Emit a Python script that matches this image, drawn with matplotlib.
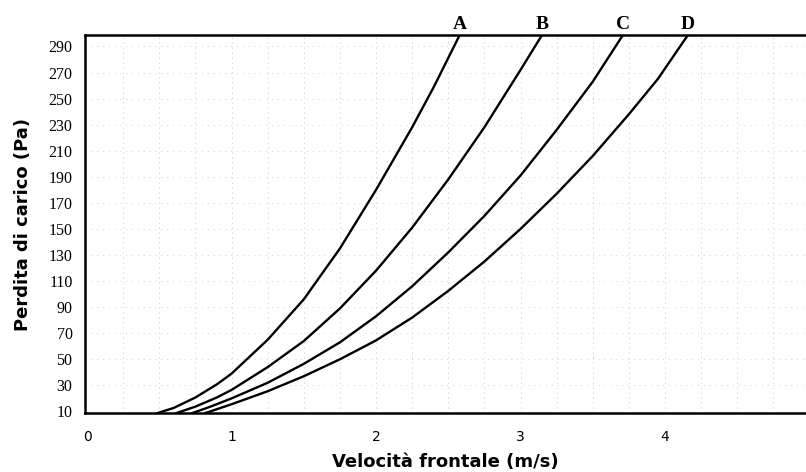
import matplotlib.pyplot as plt
import numpy as np

# velocity (m/s) and pressure drop (Pa)
curve_names = ["A", "B", "C", "D"]

v_a = [0.49, 0.60, 0.75, 0.90, 1.00, 1.25, 1.50, 1.75, 2.00, 2.25, 2.40, 2.58]
p_a = [8.8, 12.7, 20.7, 30.9, 39, 65, 96, 135, 180, 228, 259, 299]

v_b = [0.62, 0.75, 0.90, 1.00, 1.25, 1.50, 1.75, 2.00, 2.25, 2.50, 2.75, 3.00, 3.15]
p_b = [8.8, 13.7, 20.8, 26.5, 44, 64, 89, 118, 151, 188, 228, 272, 299]

v_c = [0.73, 0.85, 1.00, 1.25, 1.50, 1.75, 2.00, 2.25, 2.50, 2.75, 3.00, 3.25, 3.50, 3.71]
p_c = [8.8, 13.5, 20, 32, 46.5, 63, 83, 106, 132, 160, 191, 226, 263, 299]

v_d = [0.82, 1.00, 1.25, 1.50, 1.75, 2.00, 2.25, 2.50, 2.75, 3.00, 3.25, 3.50, 3.75, 3.95, 4.16]
p_d = [8.8, 15.5, 25.5, 37, 50, 64.5, 82, 102.5, 125, 150, 177, 206, 238, 265, 299]

x_ticks = [0, 1, 2, 3, 4]
y_ticks = list(range(10, 300, 20))

fig = plt.figure(figsize=(8.06, 4.72), dpi=100)
ax = fig.add_axes([0.1055, 0.125, 0.8945, 0.8008])

# faint dotted grid (the scanned original only shows traces of it)
for gx in np.arange(0.25, 5.0, 0.25):
    ax.axvline(gx, color='#b4b4b4', lw=0.6, ls=(0, (1, 5)), zorder=0)
for gy in range(30, 300, 20):
    ax.axhline(gy, color='#c4c4c4', lw=0.6, ls=(0, (1, 6)), zorder=0)

for name, v, p in zip(curve_names, [v_a, v_b, v_c, v_d], [p_a, p_b, p_c, p_d]):
    ax.plot(v, p, color='black', lw=1.7, solid_joinstyle='round', zorder=3)
    ax.text(v[-1], 1.006, name, transform=ax.get_xaxis_transform(), ha='center', va='bottom',
            fontsize=14, fontweight='bold', family='Liberation Serif', clip_on=False)

ax.set_xlim(-0.014, 4.976)
ax.set_ylim(8.8, 298.8)
ax.set_xticks(x_ticks)
ax.set_yticks(y_ticks)
ax.tick_params(length=0)
ax.tick_params(axis='y', pad=9)
ax.tick_params(axis='x', pad=12)
for lbl in ax.get_yticklabels():
    lbl.set_family('Liberation Serif'); lbl.set_fontsize(11.5)
for lbl in ax.get_xticklabels():
    lbl.set_family('DejaVu Sans'); lbl.set_fontsize(10)

for s in ['left', 'bottom', 'top']:
    ax.spines[s].set_linewidth(1.8)
ax.spines['right'].set_visible(False)

ax.set_xlabel("Velocità frontale (m/s)", fontsize=13, fontweight='bold', family='DejaVu Sans', labelpad=7)
ax.set_ylabel("Perdita di carico (Pa)", fontsize=13, fontweight='bold', family='DejaVu Sans', labelpad=12)

fig.savefig("out.png", dpi=100)
